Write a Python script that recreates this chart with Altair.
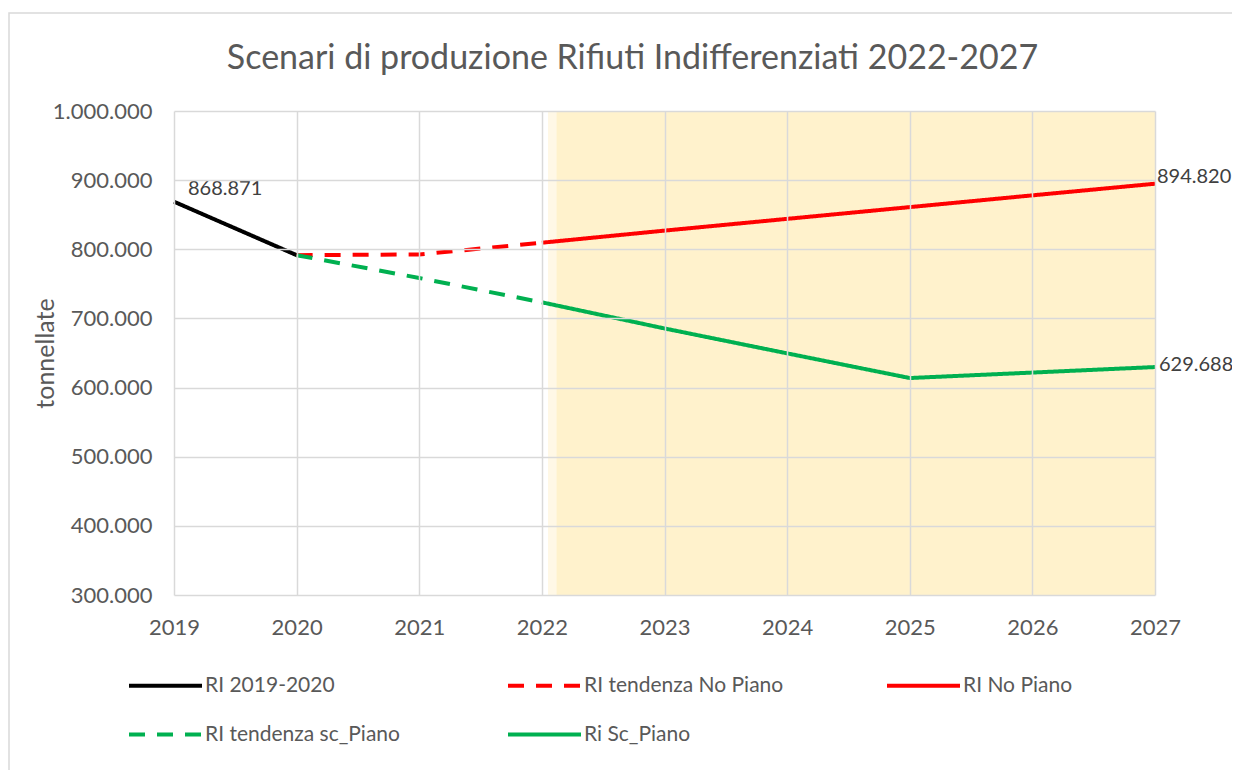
import altair as alt
import pandas as pd

# ---- data ----
series_names = ["RI 2019-2020", "RI tendenza No Piano", "RI No Piano",
                "RI tendenza sc_Piano", "Ri Sc_Piano"]
series_colors = ["#000000", "#FF0000", "#FF0000", "#00B050", "#00B050"]
series_dashes = [[1, 0], [16, 12], [1, 0], [16, 12], [1, 0]]

years_obs = [2019, 2020]
ri_obs = [868871, 791500]

years_trend = [2020, 2021, 2022]
no_piano_trend = [791500, 792500, 809500]
sc_piano_trend = [791500, 758500, 723300]

years_plan = [2022, 2023, 2024, 2025, 2026, 2027]
no_piano = [809500, 827000, 844000, 861000, 878000, 894820]
sc_piano = [723300, 685500, 649500, 613800, 621700, 629688]

band_start = [2022.05, 2022.12]
band_end = [2027, 2027]
band_colors = ["#FFF8E6", "#FFF2CC"]

label_years = [2019, 2027, 2027]
label_values = [868871, 894820, 629688]
label_texts = ["868.871", "894.820", "629.688"]

x_ticks = [2019, 2020, 2021, 2022, 2023, 2024, 2025, 2026, 2027]
y_ticks = [300000, 400000, 500000, 600000, 700000, 800000, 900000, 1000000]

# ---- tables ----
rows = []
for yv, v in zip(years_obs, ri_obs):
    rows.append({"series": series_names[0], "year": yv, "value": v})
for yv, v in zip(years_trend, no_piano_trend):
    rows.append({"series": series_names[1], "year": yv, "value": v})
for yv, v in zip(years_plan, no_piano):
    rows.append({"series": series_names[2], "year": yv, "value": v})
for yv, v in zip(years_trend, sc_piano_trend):
    rows.append({"series": series_names[3], "year": yv, "value": v})
for yv, v in zip(years_plan, sc_piano):
    rows.append({"series": series_names[4], "year": yv, "value": v})
lines_df = pd.DataFrame(rows)

band_df = pd.DataFrame({"x0": band_start, "x1": band_end, "c": band_colors,
                        "y0": [300000, 300000], "y1": [1000000, 1000000]})
labels_df = pd.DataFrame({"year": label_years, "value": label_values, "text": label_texts})

FONT = "Lato"
GREY = "#595959"

xscale = alt.Scale(domain=[2019, 2027], nice=False, zero=False)
yscale = alt.Scale(domain=[300000, 1000000], nice=False, zero=False)

x_axis = alt.Axis(values=x_ticks, format="d", title=None, grid=True, ticks=False,
                  domain=False, labelPadding=22, labelFontSize=22, labelFont=FONT,
                  labelColor=GREY, gridColor="#D9D9D9", gridWidth=1.5, zindex=1,
                  labelFlush=False, labelOverlap=False)
y_axis = alt.Axis(values=y_ticks, title="tonnellate", grid=True, ticks=False,
                  domain=False, labelPadding=22, labelFontSize=22, labelFont=FONT,
                  labelColor=GREY, gridColor="#D9D9D9", gridWidth=1.5, zindex=1,
                  labelFlush=False, labelOverlap=False,
                  labelExpr="replace(format(datum.value, ','), /,/g, '.')",
                  titleFont=FONT, titleFontSize=25, titleFontWeight="normal",
                  titleColor=GREY, titleAngle=270, titleX=-129, titleY=242,
                  titleAlign="center", titleBaseline="middle")

legend = alt.Legend(title=None, orient="none", legendX=-47, legendY=536,
                    direction="horizontal", columns=3, gridAlign="all",
                    columnPadding=95, rowPadding=-28, symbolType="stroke",
                    symbolSize=5329, symbolStrokeWidth=4,
                    labelFont=FONT, labelFontSize=21,
                    labelColor=GREY, labelOffset=1, padding=0,
                    labelLimit=400)

frame = alt.Chart(pd.DataFrame({"a": [0]})).mark_rect(
    fillOpacity=0, stroke="#D9D9D9", strokeWidth=1.5
).encode(x=alt.value(-165), x2=alt.value(1200), y=alt.value(-98), y2=alt.value(800))

band = alt.Chart(band_df).mark_rect().encode(
    x=alt.X("x0:Q", scale=xscale, axis=x_axis),
    x2="x1:Q",
    y=alt.Y("y0:Q", scale=yscale, axis=y_axis),
    y2="y1:Q",
    fill=alt.Fill("c:N", scale=None, legend=None),
)

lines = alt.Chart(lines_df).mark_line(strokeWidth=4, strokeCap="butt").encode(
    x=alt.X("year:Q", scale=xscale, axis=x_axis),
    y=alt.Y("value:Q", scale=yscale, axis=y_axis),
    color=alt.Color("series:N",
                    scale=alt.Scale(domain=series_names, range=series_colors),
                    legend=legend),
    strokeDash=alt.StrokeDash("series:N",
                              scale=alt.Scale(domain=series_names, range=series_dashes),
                              legend=legend),
)

def label_layer(i, dx, dy):
    return alt.Chart(labels_df.iloc[[i]]).mark_text(
        align="left", baseline="middle", dx=dx, dy=dy, font=FONT, fontSize=20,
        color="#404040"
    ).encode(
        x=alt.X("year:Q", scale=xscale),
        y=alt.Y("value:Q", scale=yscale),
        text="text:N",
    )

chart = alt.layer(
    frame, band, lines,
    label_layer(0, 14, -13),
    label_layer(1, 2, -7),
    label_layer(2, 4, -2),
).properties(
    width=981, height=484,
    title=alt.TitleParams("Scenari di produzione Rifiuti Indifferenziati 2022-2027",
                          font=FONT, fontSize=34, fontWeight="normal", color=GREY,
                          anchor="middle", dx=-32, offset=-64),
    autosize=alt.AutoSizeParams(type="none"),
    padding={"left": 166, "top": 103, "right": 77, "bottom": 175},
).configure_view(stroke=None)

chart.save("out.html", embed_options={"renderer": "svg", "actions": False})
